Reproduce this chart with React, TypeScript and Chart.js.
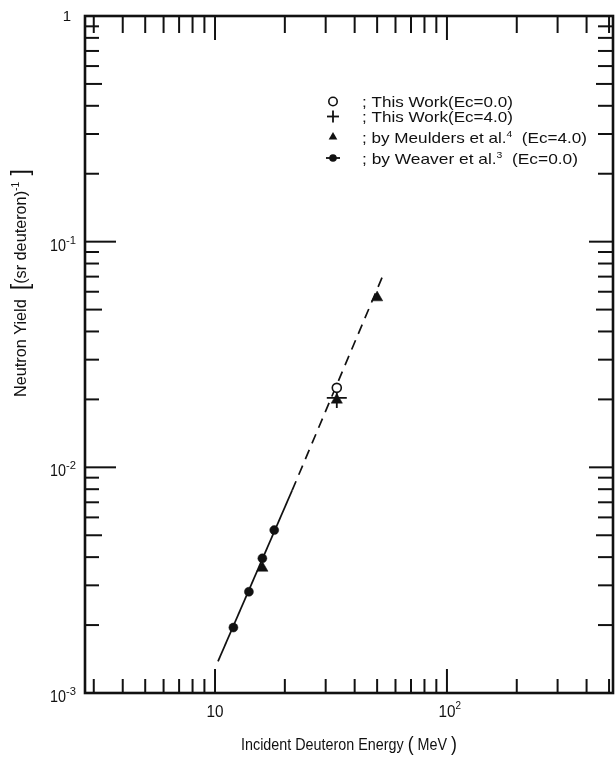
import React, { useEffect, useRef } from 'react';
import { Chart, registerables } from 'chart.js';

Chart.register(...registerables);

// ---------- data ----------
const weaverEnergy = [12, 14, 16, 18];
const weaverYield = [1.95e-3, 2.81e-3, 3.95e-3, 5.27e-3];

const meuldersEnergy = [16, 33.5, 50];
const meuldersYield = [3.58e-3, 0.0199, 0.0565];

const thisWork0Energy = [33.5];
const thisWork0Yield = [0.0225];

const thisWork4Energy = [33.5];
const thisWork4Yield = [0.0203];

const fitSolidEnergy = [10.3, 21.5];
const fitSolidYield = [1.38e-3, 7.9e-3];

const fitDashEnergy = [21.5, 53.5];
const fitDashYield = [7.9e-3, 0.0726];

const xMin = 2.75;
const xMax = 520;
const yMin = 1e-3;
const yMax = 1;

const xTickValues = [3, 4, 5, 6, 7, 8, 9, 10, 20, 30, 40, 50, 60, 70, 80, 90, 100, 200, 300, 400, 500];
const xMajorValues = [10, 100];
const xTickLabelValues = [10, 100];
const xTickLabelBase = ['10', '10'];
const xTickLabelSup = ['', '2'];

const yTickValues = [
  2e-3, 3e-3, 4e-3, 5e-3, 6e-3, 7e-3, 8e-3, 9e-3,
  1e-2, 2e-2, 3e-2, 4e-2, 5e-2, 6e-2, 7e-2, 8e-2, 9e-2,
  1e-1, 2e-1, 3e-1, 4e-1, 5e-1, 6e-1, 7e-1, 8e-1, 9e-1,
];
const yMajorValues = [1e-2, 1e-1];
const yMidValues = [5e-3, 5e-2, 5e-1];
const yTickLabelValues = [1, 1e-1, 1e-2, 1e-3];
const yTickLabelBase = ['1', '10', '10', '10'];
const yTickLabelSup = ['', '-1', '-2', '-3'];

const xTitle = 'Incident Deuteron Energy';
const xTitleUnit = 'MeV';
const yTitleMain = 'Neutron Yield';
const yTitleUnit = '(sr deuteron)';
const yTitleSup = '-1';

const legendMain = ['; This Work(Ec=0.0)', '; This Work(Ec=4.0)', '; by Meulders et al.', '; by Weaver et al.'];
const legendSup = ['', '', '4', '3'];
const legendTail = ['', '', '  (Ec=4.0)', '  (Ec=0.0)'];

// ---------- drawing helpers ----------
const FONT = '"Liberation Sans", "DejaVu Sans", Arial, sans-serif';
type Seg = { t: string; size: number; dy?: number };

function segWidth(ctx: CanvasRenderingContext2D, segs: Seg[]) {
  let w = 0;
  for (const s of segs) {
    ctx.font = `${s.size}px ${FONT}`;
    w += ctx.measureText(s.t).width;
  }
  return w;
}

// draws a run of text segments; if targetW is given the run is stretched horizontally to that width
function drawSegs(
  ctx: CanvasRenderingContext2D,
  segs: Seg[],
  x: number,
  y: number,
  align: 'left' | 'center' | 'right',
  targetW?: number
) {
  const natural = segWidth(ctx, segs);
  const sx = targetW ? targetW / natural : 1;
  const w = natural * sx;
  const startX = align === 'left' ? x : align === 'center' ? x - w / 2 : x - w;
  ctx.save();
  ctx.translate(startX, y);
  ctx.scale(sx, 1);
  ctx.textAlign = 'left';
  ctx.textBaseline = 'alphabetic';
  let cx = 0;
  for (const s of segs) {
    ctx.font = `${s.size}px ${FONT}`;
    ctx.fillText(s.t, cx, s.dy || 0);
    cx += ctx.measureText(s.t).width;
  }
  ctx.restore();
}

function line(ctx: CanvasRenderingContext2D, x1: number, y1: number, x2: number, y2: number) {
  ctx.beginPath();
  ctx.moveTo(x1, y1);
  ctx.lineTo(x2, y2);
  ctx.stroke();
}

function drawMarker(ctx: CanvasRenderingContext2D, kind: number, x: number, y: number) {
  ctx.save();
  ctx.strokeStyle = '#111';
  ctx.fillStyle = '#111';
  if (kind === 0) {
    ctx.lineWidth = 1.6;
    ctx.fillStyle = '#fff';
    ctx.beginPath();
    ctx.arc(x, y, 4.2, 0, Math.PI * 2);
    ctx.fill();
    ctx.stroke();
  } else if (kind === 1) {
    ctx.lineWidth = 1.8;
    line(ctx, x - 6, y, x + 6, y);
    line(ctx, x, y - 6, x, y + 6);
  } else if (kind === 2) {
    const r = 5;
    ctx.beginPath();
    ctx.moveTo(x, y - r);
    ctx.lineTo(x + r * 0.866, y + r * 0.5);
    ctx.lineTo(x - r * 0.866, y + r * 0.5);
    ctx.closePath();
    ctx.fill();
  } else {
    ctx.lineWidth = 1.8;
    line(ctx, x - 7, y, x + 7, y);
    ctx.beginPath();
    ctx.arc(x, y, 3.8, 0, Math.PI * 2);
    ctx.fill();
  }
  ctx.restore();
}

const axesPlugin = {
  id: 'sciAxes',
  afterDraw(chart: any) {
    const { ctx, chartArea: a, scales } = chart;
    const xs = scales.x;
    const ys = scales.y;
    ctx.save();
    ctx.strokeStyle = '#111';
    ctx.fillStyle = '#111';
    ctx.lineCap = 'butt';

    // x ticks (bottom and top, inward)
    ctx.lineWidth = 2;
    for (const v of xTickValues) {
      const px = xs.getPixelForValue(v);
      if (px <= a.left + 1 || px >= a.right - 1) continue;
      const major = xMajorValues.includes(v);
      line(ctx, px, a.bottom, px, a.bottom - (major ? 24 : 14));
      line(ctx, px, a.top, px, a.top + (major ? 24 : 17));
    }
    // y ticks (left and right, inward)
    for (const v of yTickValues) {
      const py = ys.getPixelForValue(v);
      if (py <= a.top + 1 || py >= a.bottom - 1) continue;
      const major = yMajorValues.includes(v);
      const mid = yMidValues.includes(v);
      line(ctx, a.left, py, a.left + (major ? 31 : mid ? 17 : 14), py);
      line(ctx, a.right, py, a.right - (major ? 24 : mid ? 17 : 15), py);
    }
    // frame
    ctx.lineWidth = 2.6;
    ctx.strokeRect(a.left, a.top, a.right - a.left, a.bottom - a.top);

    // x tick labels
    xTickLabelValues.forEach((v, i) => {
      const px = xs.getPixelForValue(v);
      ctx.font = `17px ${FONT}`;
      const bw = ctx.measureText(xTickLabelBase[i]).width * 0.9;
      const segs: Seg[] = [{ t: xTickLabelBase[i], size: 17 }];
      let tw = bw;
      if (xTickLabelSup[i]) {
        segs.push({ t: xTickLabelSup[i], size: 11, dy: -8 });
        tw = segWidth(ctx, segs) * 0.9;
      }
      drawSegs(ctx, segs, px - bw / 2, a.bottom + 24, 'left', tw);
    });

    // y tick labels
    yTickLabelValues.forEach((v, i) => {
      const py = ys.getPixelForValue(v);
      if (!yTickLabelSup[i]) {
        drawSegs(ctx, [{ t: yTickLabelBase[i], size: 15 }], 67, py + 5, 'center');
      } else {
        drawSegs(ctx, [{ t: yTickLabelBase[i], size: 17 }], 66, py + 9, 'right', 16);
        drawSegs(ctx, [{ t: yTickLabelSup[i], size: 11 }], 66, py + 2, 'left', 10);
      }
    });

    // x title
    drawSegs(
      ctx,
      [
        { t: xTitle + ' ', size: 17 },
        { t: '(', size: 21, dy: 1 },
        { t: ' ' + xTitleUnit + ' ', size: 17 },
        { t: ')', size: 21, dy: 1 },
      ],
      (a.left + a.right) / 2,
      750,
      'center',
      216
    );

    // y title (rotated)
    ctx.save();
    ctx.translate(26, 283);
    ctx.rotate(-Math.PI / 2);
    drawSegs(
      ctx,
      [
        { t: yTitleMain + '  ', size: 16 },
        { t: '[', size: 23, dy: 2 },
        { t: yTitleUnit, size: 16 },
        { t: yTitleSup, size: 10, dy: -7 },
        { t: ' ]', size: 23, dy: 2 },
      ],
      0,
      0,
      'center',
      228
    );
    ctx.restore();

    // legend
    const legendY = [101.5, 116.5, 137, 158];
    const legendW = [151, 151, 225, 216];
    legendMain.forEach((txt, i) => {
      drawMarker(ctx, i, 333, legendY[i]);
      const segs: Seg[] = [{ t: txt, size: 15 }];
      if (legendSup[i]) segs.push({ t: legendSup[i], size: 9, dy: -6 });
      if (legendTail[i]) segs.push({ t: legendTail[i], size: 15 });
      drawSegs(ctx, segs, 362, legendY[i] + 5.5, 'left', legendW[i]);
    });

    ctx.restore();
  },
};

const toPts = (xs: number[], ys: number[]) => xs.map((x, i) => ({ x, y: ys[i] }));

export default function App() {
  const ref = useRef<HTMLCanvasElement | null>(null);

  useEffect(() => {
    if (!ref.current) return;
    const chart = new Chart(ref.current, {
      type: 'scatter',
      data: {
        datasets: [
          {
            label: 'This Work (Ec=0.0)',
            data: toPts(thisWork0Energy, thisWork0Yield),
            pointStyle: 'circle',
            pointRadius: 4.5,
            backgroundColor: '#fff',
            borderColor: '#111',
            borderWidth: 1.6,
          },
          {
            label: 'This Work (Ec=4.0)',
            data: toPts(thisWork4Energy, thisWork4Yield),
            pointStyle: 'cross',
            pointRadius: 10,
            borderColor: '#111',
            borderWidth: 1.8,
          },
          {
            label: 'Meulders et al.',
            data: toPts(meuldersEnergy, meuldersYield),
            pointStyle: 'triangle',
            pointRadius: 6.5,
            backgroundColor: '#111',
            borderColor: '#111',
            borderWidth: 0.5,
          },
          {
            label: 'Weaver et al.',
            data: toPts(weaverEnergy, weaverYield),
            pointStyle: 'circle',
            pointRadius: 4.5,
            backgroundColor: '#111',
            borderColor: '#111',
            borderWidth: 0.5,
          },
          {
            label: 'fit solid',
            data: toPts(fitSolidEnergy, fitSolidYield),
            showLine: true,
            pointRadius: 0,
            borderColor: '#111',
            borderWidth: 1.7,
          },
          {
            label: 'fit dashed',
            data: toPts(fitDashEnergy, fitDashYield),
            showLine: true,
            pointRadius: 0,
            borderColor: '#111',
            borderWidth: 1.7,
            borderDash: [10, 7],
          },
        ],
      },
      options: {
        animation: false,
        responsive: false,
        devicePixelRatio: 1,
        layout: { autoPadding: false, padding: { left: 85, right: 3, top: 16, bottom: 65 } },
        scales: {
          x: {
            type: 'logarithmic', min: xMin, max: xMax, display: false,
            ticks: { display: false }, grid: { display: false },
          },
          y: {
            type: 'logarithmic', min: yMin, max: yMax, display: false,
            ticks: { display: false }, grid: { display: false },
          },
        },
        plugins: {
          legend: { display: false },
          tooltip: { enabled: false },
        },
        events: [],
      },
      plugins: [axesPlugin],
    });
    return () => chart.destroy();
  }, []);

  return (
    <div style={{ position: 'fixed', left: 0, top: 0, width: 616, height: 758, background: '#fff' }}>
      <canvas ref={ref} width={616} height={758} style={{ width: 616, height: 758, display: 'block' }} />
    </div>
  );
}
